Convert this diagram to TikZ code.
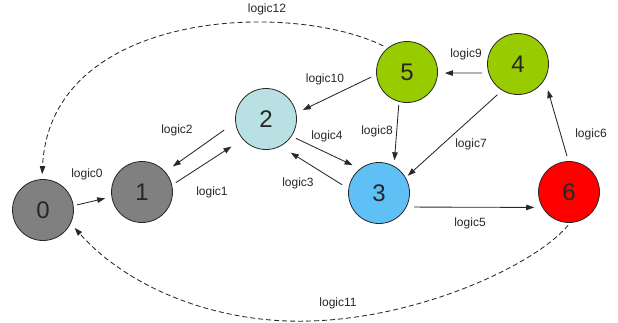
\documentclass[tikz,border=0pt]{standalone}
\usepackage{fontspec}
\setmainfont{Liberation Sans}
\usetikzlibrary{arrows.meta}

\definecolor{greyfill}{RGB}{128,128,128}
\definecolor{palecyan}{RGB}{185,225,228}
\definecolor{skyblue}{RGB}{95,192,245}
\definecolor{leafgreen}{RGB}{153,204,0}
\definecolor{brightred}{RGB}{255,0,0}
\definecolor{inkline}{RGB}{40,40,40}

\begin{document}
\begin{tikzpicture}[x=1pt,y=-1pt,
  state/.style={circle,draw=inkline,line width=0.8pt,minimum size=61pt,inner sep=0pt,
    font=\fontsize{24}{24}\selectfont,text=black!85},
  link/.style={draw=inkline,line width=0.85pt,-{Triangle[length=8pt,width=5.5pt]}},
  back/.style={link,dash pattern=on 5pt off 3pt},
  tag/.style={font=\fontsize{12}{12}\selectfont,text=black!85,inner sep=0pt}]

\useasboundingbox (0,0) rectangle (618,322);

% states
\node[state,fill=greyfill]  (n0) at (43,210)  {0};
\node[state,fill=greyfill]  (n1) at (142,192) {1};
\node[state,fill=palecyan]  (n2) at (266,119) {2};
\node[state,fill=skyblue]   (n3) at (379,193) {3};
\node[state,fill=leafgreen] (n4) at (518,64)  {4};
\node[state,fill=leafgreen] (n5) at (407,72)  {5};
\node[state,fill=brightred] (n6) at (569,192) {6};

% transitions
\draw[link,shorten <=3.4pt,shorten >=6.5pt]  (n0.8)     -- (n1.189);
\draw[link,shorten <=4.4pt,shorten >=13.4pt] (n1.13)    -- (n2.221);
\draw[link,shorten <=13.6pt,shorten >=9.2pt] (n2.186)   -- (n1.41);
\draw[link,shorten <=4.7pt,shorten >=8.2pt]  (n2.-34)   -- (n3.128.5);
\draw[link,shorten <=7.4pt,shorten >=12.1pt] (n3.172)   -- (n2.-62.7);
\draw[link,shorten <=7.5pt,shorten >=8pt]    (n3.-27.8) -- (n6.210);
\draw[link,shorten <=5.2pt,shorten >=11.1pt] (n6.91)    -- (n4.-30.8);
\draw[link,shorten <=6.4pt,shorten >=2.7pt]  (n4.239.4) -- (n3.30.3);
\draw[link,shorten <=6.4pt,shorten >=7pt]    (n4.197.5) -- (n5.-2);
\draw[link,shorten <=3.1pt,shorten >=5.7pt]  (n5.255)   -- (n3.61);
\draw[link,shorten <=5.6pt,shorten >=7.2pt]  (n5.185)   -- (n2.11.5);

% return paths back to state 0
\draw[back,shorten <=4.8pt,shorten >=5pt]
  (n5.129) .. controls (290,0) and (50,10) .. (n0.92);
\draw[back,shorten <=3pt,shorten >=5.8pt]
  (n6.-88) .. controls (535,265) and (420,318) .. (310,321)
           .. controls (220,324) and (130,290) .. (n0.-26.6);

% transition labels
\node[tag] (l0)  at (87,174)  {logic0};
\node[tag] (l1)  at (212,192) {logic1};
\node[tag] (l2)  at (177,130) {logic2};
\node[tag] (l3)  at (298,183) {logic3};
\node[tag] (l4)  at (327,136) {logic4};
\node[tag] (l5)  at (470,223) {logic5};
\node[tag] (l6)  at (591,134) {logic6};
\node[tag] (l7)  at (471,144) {logic7};
\node[tag] (l8)  at (377,131) {logic8};
\node[tag] (l9)  at (466,54)  {logic9};
\node[tag] (l10) at (325,79)  {logic10};
\node[tag] (l11) at (338,303) {logic11};
\node[tag] (l12) at (267,9)   {logic12};
\end{tikzpicture}
\end{document}
